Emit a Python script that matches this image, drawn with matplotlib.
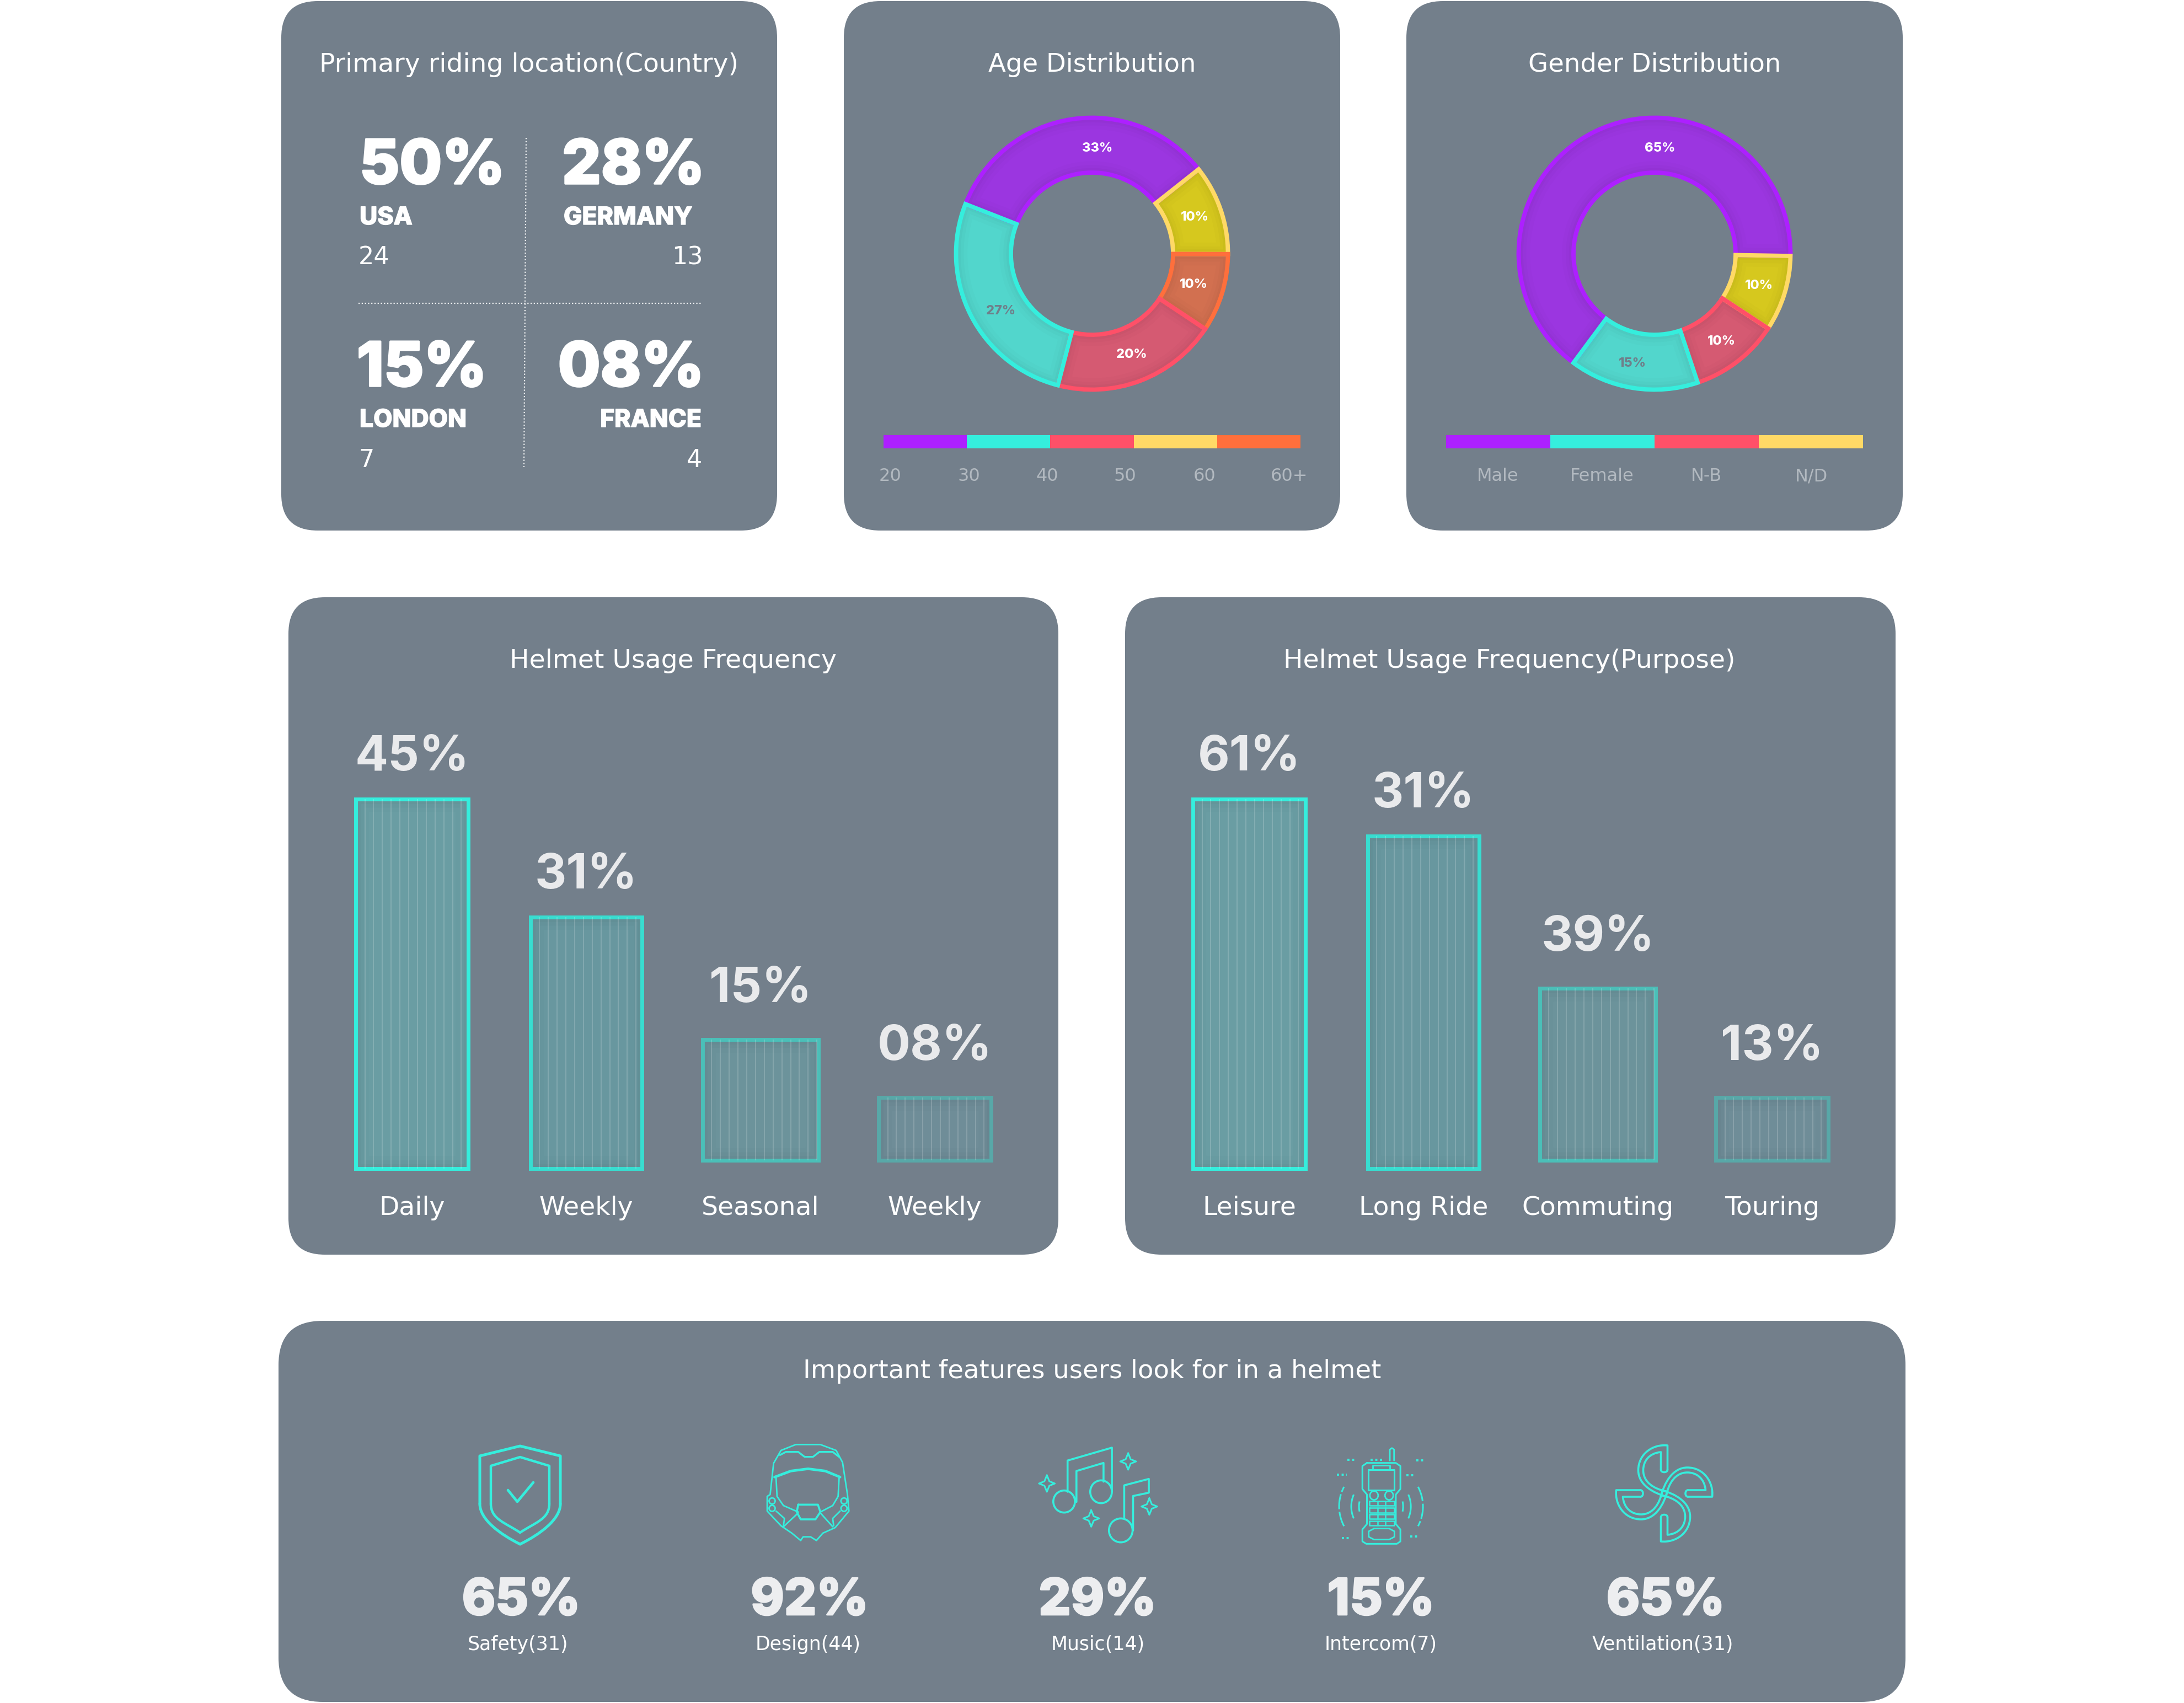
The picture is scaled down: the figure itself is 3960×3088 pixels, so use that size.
import numpy as np
import matplotlib
matplotlib.use('Agg')
import matplotlib.pyplot as plt
import matplotlib.patheffects as pe
from matplotlib.patches import FancyBboxPatch, PathPatch, Wedge, Ellipse, Rectangle
from matplotlib.path import Path

W, H = 3960, 3088
BG = '#737F8B'
TEAL = '#35EEDD'
LIGHT = '#EDEEF0'

# data

country_pct = ['50%', '28%', '15%', '08%']
country_name = ['USA', 'GERMANY', 'LONDON', 'FRANCE']
country_count = ['24', '13', '7', '4']

age_share = [33.4, 10.7, 9.3, 19.7, 26.9]
age_text = ['33%', '10%', '10%', '20%', '27%']
age_legend = ['20', '30', '40', '50', '60', '60+']
age_colors = ['#AD20FF', '#FFD966', '#FF6F3C', '#FF5068', '#35EEDD']
age_fills = ['#9B36E0', '#D6C81E', '#D27050', '#D55A72', '#52D6CC']
age_strip = ['#AD20FF', '#35EEDD', '#FF5068', '#FFD966', '#FF6F3C']

gender_share = [65.1, 9.0, 10.6, 15.3]
gender_text = ['65%', '10%', '10%', '15%']
gender_legend = ['Male', 'Female', 'N-B', 'N/D']
gender_colors = ['#AD20FF', '#FFD966', '#FF5068', '#35EEDD']
gender_fills = ['#9B36E0', '#D6C81E', '#D55A72', '#52D6CC']
gender_strip = ['#AD20FF', '#35EEDD', '#FF5068', '#FFD966']

freq_cats = ['Daily', 'Weekly', 'Seasonal', 'Weekly']
freq_text = ['45%', '31%', '15%', '08%']
freq_bars = [45, 30.6, 14.7, 7.65]
freq_base = [0, 0, 1.0, 1.0]

purpose_cats = ['Leisure', 'Long Ride', 'Commuting', 'Touring']
purpose_text = ['61%', '31%', '39%', '13%']
purpose_bars = [61, 54.9, 28.4, 10.35]
purpose_base = [0, 0, 1.37, 1.37]

feature_pct = ['65%', '92%', '29%', '15%', '65%']
feature_name = ['Safety(31)', 'Design(44)', 'Music(14)', 'Intercom(7)', 'Ventilation(31)']

# page

fig = plt.figure(figsize=(W / 100, H / 100), dpi=100, facecolor='white')


def px_axes(x0, y0, x1, y1, zorder=1):
    a = fig.add_axes([x0 / W, 1 - y1 / H, (x1 - x0) / W, (y1 - y0) / H], zorder=zorder)
    a.set_facecolor('none')
    a.axis('off')
    return a


back = px_axes(0, 0, W, H, zorder=0)
back.set_xlim(0, W)
back.set_ylim(H, 0)
over = px_axes(0, 0, W, H, zorder=5)
over.set_xlim(0, W)
over.set_ylim(H, 0)

cards = [(510, 2, 1409, 962, 66), (1530, 2, 2430, 962, 66), (2550, 2, 3450, 962, 66),
         (523, 1083, 1919, 2275, 66), (2040, 1083, 3437, 2275, 66), (505, 2395, 3455, 3086, 80)]
for x0, y0, x1, y1, r in cards:
    back.add_patch(FancyBboxPatch((x0, y0), x1 - x0, y1 - y0, boxstyle='round,pad=0,rounding_size=%d' % r,
                                  fc=BG, ec='none'))


def T(x, y, s, size, ha='center', family='DejaVu Sans', weight='normal', color='white', fat=0):
    t = over.text(x, y, s, fontsize=size, ha=ha, va='baseline', family=family, weight=weight, color=color)
    if fat:
        t.set_path_effects([pe.withStroke(linewidth=fat, foreground=color)])


# titles
T(959, 130, 'Primary riding location(Country)', 34)
T(1980, 130, 'Age Distribution', 33.5)
T(3000, 130, 'Gender Distribution', 33.5)
T(1220, 1211, 'Helmet Usage Frequency', 34)
T(2737, 1211, 'Helmet Usage Frequency(Purpose)', 34)
T(1980, 2499, 'Important features users look for in a helmet', 33.5)

# location card

T(652, 333, country_pct[0], 80, 'left', 'Inter', 800, fat=2.5)
T(1019, 333, country_pct[1], 80, 'left', 'Inter', 800, fat=2.5)
T(647, 700, country_pct[2], 80, 'left', 'Inter', 800, fat=2.5)
T(1277, 700, country_pct[3], 80, 'right', 'Inter', 800, fat=2.5)
T(652, 407, country_name[0], 32, 'left', 'Inter', 800, fat=1)
T(1022, 407, country_name[1], 32, 'left', 'Inter', 800, fat=1)
T(652, 774, country_name[2], 32, 'left', 'Inter', 800, fat=1)
T(1272, 774, country_name[3], 32, 'right', 'Inter', 800, fat=1)
T(650, 479, country_count[0], 32, 'left')
T(1275, 479, country_count[1], 32, 'right')
T(650, 847, country_count[2], 32, 'left')
T(1273, 847, country_count[3], 32, 'right')
over.plot([954, 950], [250, 847], color='white', lw=1.6, ls=(0, (1, 1.6)), alpha=0.9)
over.plot([650, 1273], [550, 550], color='white', lw=1.6, ls=(0, (1, 1.6)), alpha=0.9)


# donuts

def donut(cx, cy, shares, colors, fills, start):
    r_out = 246.5
    r_in = 147.0
    lim = 1.1
    s = r_out * lim
    a = px_axes(cx - s, cy - s, cx + s, cy + s, zorder=2)
    wedges, _ = a.pie(shares, colors=fills, startangle=start, counterclock=False, radius=1.0,
                      wedgeprops=dict(width=1 - r_in / r_out, ec='none'))
    a.set_xlim(-lim, lim)
    a.set_ylim(-lim, lim)
    for w, c in zip(wedges, colors):
        # darker rim inside each slice
        for lw, al in [(30, 0.012), (20, 0.016), (12, 0.02)]:
            sh = Wedge(w.center, w.r, w.theta1, w.theta2, width=w.width, fc='none', ec='black', lw=lw, alpha=al)
            a.add_patch(sh)
            sh.set_clip_path(w)
    for w, c in zip(wedges, colors):
        a.add_patch(Wedge(w.center, w.r, w.theta1, w.theta2, width=w.width, fc='none', ec=c, lw=5.6,
                          joinstyle='miter'))


donut(1980, 460, age_share, age_colors, age_fills, 158.6)
donut(3000, 460, gender_share, gender_colors, gender_fills, 233.4)

age_lab_xy = [(1990, 275), (2166, 400), (2164, 522), (2052, 649), (1815, 570)]
for (x, y), s, c in zip(age_lab_xy, age_text, ['white', 'white', 'white', 'white', '#6F7F8A']):
    T(x, y, s, 17, family='Inter', weight=800, color=c)
gender_lab_xy = [(3010, 275), (3189, 524), (3121, 625), (2960, 665)]
for (x, y), s, c in zip(gender_lab_xy, gender_text, ['white', 'white', 'white', '#6F7F8A']):
    T(x, y, s, 17, family='Inter', weight=800, color=c)


# colour strips

def strip(x0, x1, colors):
    a = px_axes(x0, 789, x1, 812.5, zorder=2)
    n = len(colors)
    a.barh([0] * n, [1] * n, left=np.arange(n), height=1.0, color=colors, linewidth=0)
    a.set_xlim(0, n)
    a.set_ylim(-0.5, 0.5)


strip(1602, 2358, age_strip)
strip(2622, 3378, gender_strip)
for x, s in zip([1614, 1757, 1899, 2040, 2184, 2337], age_legend):
    T(x, 872, s, 23, color='#B2B9C0')
for x, s in zip([2716, 2905, 3094, 3284], gender_legend):
    T(x, 872, s, 23, color='#B2B9C0')

# bar panels

STEP = 316.0
INSET = 3.2
bar_strokes = ['#35EEDD', '#38DDD0', '#4BBFB8', '#58A8A8']
bar_fills = ['#6A9DA3', '#68979F', '#6C939B', '#6F8D98']
bar_w = [0.645, 0.64, 0.665, 0.645]
lab_off = [52, 52, 68, 68]


def bar_panel(x0, x1, first, values, base, cats, texts, scale):
    y0, y1, zero = 1083, 2275, 2119
    a = px_axes(x0, y0, x1, y1, zorder=2)
    a.set_xlim((x0 - first) / STEP, (x1 - first) / STEP)
    a.set_ylim((zero - y1) / scale, (zero - y0) / scale)
    xs = np.arange(len(values))
    bars = a.bar(xs, values, width=bar_w, bottom=base, color=bar_fills, edgecolor='none', zorder=3)
    for i, b in enumerate(bars):
        # darker rim inside the bar
        for lw, al in [(34, 0.012), (22, 0.016), (12, 0.02)]:
            sh = Rectangle(b.get_xy(), b.get_width(), b.get_height(), fc='none', ec='black', lw=lw, alpha=al, zorder=3.2)
            a.add_patch(sh)
            sh.set_clip_path(b)
        a.add_patch(Rectangle(b.get_xy(), b.get_width(), b.get_height(), fc='none', ec=bar_strokes[i], lw=5,
                              joinstyle='miter', zorder=3.4))
        px = np.arange(19.7, b.get_width() * STEP + 3, 15.9)
        a.vlines(b.get_x() - INSET / STEP + px / STEP, base[i], base[i] + values[i], color='white', lw=1.5,
                 alpha=0.17, zorder=3.6)
        a.annotate(texts[i], (i, base[i] + values[i]), xytext=(0, lab_off[i] / 1.389), textcoords='offset points',
                   ha='center', va='baseline', fontsize=64, family='Inter', weight='bold', color='#E9EAEC')
        a.annotate(cats[i], (i, 0), xytext=(0, -84 / 1.389), textcoords='offset points', ha='center', va='baseline',
                   fontsize=34, family='DejaVu Sans', color='white')


bar_panel(523, 1919, 747, freq_bars, freq_base, freq_cats, freq_text, 14.9)
bar_panel(2040, 3437, 2265, purpose_bars, purpose_base, purpose_cats, purpose_text, 10.98)

# feature row

for x, s in zip([945, 1468, 1990, 2504, 3020], feature_pct):
    T(x, 2928, s, 66, family='Inter', weight=800, color=LIGHT, fat=2)
for x, s in zip([939, 1465, 1991, 2504, 3015], feature_name):
    T(x, 2992, s, 25)


# icons, in page pixels

def line(pts, lw=2.4):
    p = np.array(pts, dtype=float)
    over.plot(p[:, 0], p[:, 1], color=TEAL, lw=lw, solid_capstyle='round', solid_joinstyle='round')


def curve(start, segs, lw=2.4):
    verts = [start]
    codes = [Path.MOVETO]
    for s in segs:
        verts.extend(s)
        codes.extend([Path.CURVE4] * 3)
    over.add_patch(PathPatch(Path(verts, codes), fc='none', ec=TEAL, lw=lw, capstyle='round', joinstyle='round'))


# shield
for half, top, sh, side, bot, lw in [(73, 2622, 2640, 2727, 2800, 3.6), (53, 2642, 2658, 2727, 2779, 3.2)]:
    c = 943
    line([(c - half, side), (c - half, sh), (c, top), (c + half, sh), (c + half, side)], lw)
    curve((c + half, side), [[(c + half, side + 28), (c + half * 0.5, bot - 18), (c, bot)]], lw)
    curve((c - half, side), [[(c - half, side + 28), (c - half * 0.5, bot - 18), (c, bot)]], lw)
line([(921, 2702), (938, 2723), (967, 2688)], 3.4)


# helmet, coordinates from the zoomed crop
def hx(pts):
    return [(800 + x / 1.12, 2580 + y / 3.0) for x, y in pts]


line(hx([(720, 118), (770, 118), (802, 150), (815, 215), (825, 390), (828, 480), (800, 570), (775, 600), (762, 640),
         (750, 620), (735, 620), (730, 640), (712, 600), (690, 560), (662, 480), (662, 400), (668, 390), (675, 220),
         (690, 150), (720, 118)]), 2.0)
line(hx([(677, 295), (710, 262), (745, 250), (780, 262), (810, 295)]), 3.4)
line(hx([(680, 300), (682, 400), (695, 450), (725, 485)]), 2.0)
line(hx([(808, 300), (806, 400), (795, 450), (770, 485)]), 2.0)
line(hx([(725, 445), (765, 445), (770, 485), (760, 525), (730, 525), (722, 485), (725, 445)]), 2.6)
line(hx([(688, 175), (700, 158), (725, 158), (738, 185), (755, 185), (768, 158), (795, 158), (808, 185)]), 2.4)
line(hx([(725, 490), (695, 565)]), 2.0)
line(hx([(770, 490), (795, 565)]), 2.0)
line(hx([(680, 480), (697, 520), (695, 560)]), 2.0)
line(hx([(810, 480), (795, 520), (797, 560)]), 2.0)
for ex, ey in [(672, 425), (672, 465), (818, 425), (818, 465)]:
    cx, cy = hx([(ex, ey)])[0]
    over.add_patch(Ellipse((cx, cy), 11, 11, fc='none', ec=TEAL, lw=2.0))

# notes
for ex, ey, rx, ry in [(1265, 428, 22, 60), (1340, 375, 22, 62), (1380, 585, 24, 65)]:
    cx, cy = hx([(ex, ey)])[0]
    over.add_patch(Ellipse((cx, cy), 2 * rx / 1.12, 2 * ry / 3.0, fc='none', ec=TEAL, lw=2.6))
line(hx([(1272, 375), (1272, 205), (1362, 135), (1362, 375)]), 2.6)
line(hx([(1290, 430), (1290, 262), (1345, 218), (1345, 320)]), 2.6)
line(hx([(1387, 520), (1387, 340), (1437, 305), (1437, 380), (1405, 398), (1405, 585)]), 2.6)
for ex, ey in [(1230, 330), (1395, 210), (1320, 520), (1438, 455)]:
    line(hx([(ex, ey - 45), (ex + 5, ey - 12), (ex + 16, ey), (ex + 5, ey + 12), (ex, ey + 45), (ex - 5, ey + 12),
             (ex - 16, ey), (ex - 5, ey - 12), (ex, ey - 45)]), 2.2)


# intercom
def ix(pts):
    return [(2300 + x / 1.568, 2580 + y / 3.0) for x, y in pts]


line(ix([(280, 218), (362, 218), (375, 235), (375, 360), (362, 390), (362, 550), (375, 580), (375, 645), (365, 658),
         (278, 658), (267, 645), (267, 580), (280, 550), (280, 390), (267, 360), (267, 235), (280, 218)]), 2.2)
line(ix([(284, 255), (358, 255), (358, 365), (284, 365), (284, 255)]), 2.2)
line(ix([(297, 252), (297, 232), (345, 232), (345, 252)]), 2.0)
line(ix([(345, 205), (345, 145), (351, 137), (357, 145), (357, 205)]), 2.0)
for ya, yb in [(425, 450), (462, 488), (498, 522), (535, 558)]:
    line(ix([(287, ya), (357, ya), (357, yb), (287, yb), (287, ya)]), 1.8)
    line(ix([(310, ya), (310, yb)]), 1.8)
    line(ix([(333, ya), (333, yb)]), 1.8)
for ex in [300, 343]:
    cx, cy = ix([(ex, 395)])[0]
    over.add_patch(Ellipse((cx, cy), 15, 16, fc='none', ec=TEAL, lw=2.0))
line(ix([(300, 575), (343, 575), (358, 590), (358, 620), (343, 635), (300, 635), (285, 620), (285, 590), (300, 575)]), 2.0)
for xa, xb, y in [(225, 250, 200), (290, 325, 200), (420, 445, 203), (195, 222, 283), (392, 418, 286), (208, 235, 627),
                  (403, 430, 618)]:
    pts = ix([(xa, y), (xb, y)])
    over.plot([pts[0][0], pts[1][0]], [pts[0][1], pts[1][1]], color=TEAL, lw=2.8, ls=(0, (1.0, 1.2)))
radio_c = ix([(320, 455)])[0]
for rad, span, gap in [(76, 28, 8), (54, 22, 0), (40, 11, 0)]:
    for side in [0, 180]:
        ang = np.radians(np.linspace(-span, span, 30)) + np.radians(side)
        xs = radio_c[0] + rad * np.cos(ang)
        ys = radio_c[1] + rad * np.sin(ang)
        over.plot(xs, ys, color=TEAL, lw=2.2, ls=(0, (9, 1.5)) if gap else '-')

# fan
fan_c = np.array([3017.5, 2708.0])
blade = [((6, -43), [[(6, -62), (6, -78), (6, -87)], [(-20, -90), (-47, -72), (-47, -42)],
                     [(-47, -16), (-20, 0), (6, 6)]]),
         ((-6, -43), [[(-6, -55), (-6, -64), (-6, -75)], [(-28, -73), (-38, -58), (-38, -42)],
                      [(-38, -20), (-18, -8), (3, -4)]])]
for k in range(4):
    rot = np.array([[0, -1], [1, 0]], dtype=float)
    m = np.linalg.matrix_power(rot, k)
    for start, segs in blade:
        st = tuple(m @ np.array(start, dtype=float) + fan_c)
        sg = [[tuple(m @ np.array(p, dtype=float) + fan_c) for p in s] for s in segs]
        curve(st, sg, 2.6)
    a = m @ np.array((6, -43.0)) + fan_c
    b = m @ np.array((-6, -43.0)) + fan_c
    curve(tuple(a), [[tuple(a + m @ np.array((0, 6.0))), tuple(b + m @ np.array((0, 6.0))), tuple(b)]], 2.6)

fig.savefig('out.png', dpi=100)
